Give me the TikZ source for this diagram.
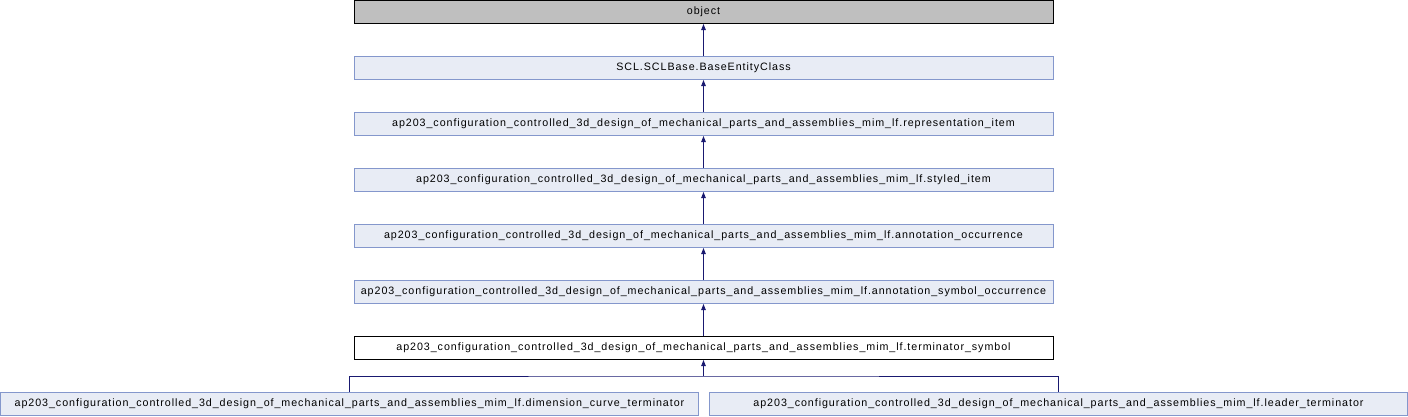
\documentclass[tikz,border=0pt]{standalone}
\usepackage{fontspec}
\setmainfont{Liberation Sans}
\newfontfamily\lblfont[LetterSpace=8.8]{Liberation Sans}
\usetikzlibrary{arrows.meta}
\definecolor{boxfill}{HTML}{E8ECF5}
\definecolor{boxline}{HTML}{8497CC}
\definecolor{edgecol}{HTML}{191970}
\definecolor{objfill}{HTML}{BFBFBF}
\tikzset{
  x=1pt, y=-1pt,
  cls/.style={draw=boxline, fill=boxfill, line width=1pt, minimum height=23pt, inner sep=0pt,
    font=\lblfont\fontsize{10.7pt}{12pt}\selectfont},
  wide/.style={cls, minimum width=699pt},
  half/.style={cls, minimum width=698pt},
  objbox/.style={wide, draw=black, fill=objfill},
  curbox/.style={wide, draw=black, fill=white},
  inh/.style={draw=edgecol, line width=1pt, -{Triangle[length=6pt,width=4.5pt]}},
  ln/.style={draw=edgecol, line width=1pt}
}
\begin{document}
\begin{tikzpicture}
\useasboundingbox (0,0) rectangle (1408,416);
\node[objbox] (n0) at (703.5,12) {object};
\node[wide] (n1) at (703.5,68) {SCL.SCLBase.BaseEntityClass};
\node[wide] (n2) at (703.5,124) {ap203\_configuration\_controlled\_3d\_design\_of\_mechanical\_parts\_and\_assemblies\_mim\_lf.representation\_item};
\node[wide] (n3) at (703.5,180) {ap203\_configuration\_controlled\_3d\_design\_of\_mechanical\_parts\_and\_assemblies\_mim\_lf.styled\_item};
\node[wide] (n4) at (703.5,236) {ap203\_configuration\_controlled\_3d\_design\_of\_mechanical\_parts\_and\_assemblies\_mim\_lf.annotation\_occurrence};
\node[wide] (n5) at (703.5,292) {ap203\_configuration\_controlled\_3d\_design\_of\_mechanical\_parts\_and\_assemblies\_mim\_lf.annotation\_symbol\_occurrence};
\node[curbox] (n6) at (703.5,348) {ap203\_configuration\_controlled\_3d\_design\_of\_mechanical\_parts\_and\_assemblies\_mim\_lf.terminator\_symbol};
\node[half] (n7) at (349.5,404) {ap203\_configuration\_controlled\_3d\_design\_of\_mechanical\_parts\_and\_assemblies\_mim\_lf.dimension\_curve\_terminator};
\node[half] (n8) at (1058.5,404) {ap203\_configuration\_controlled\_3d\_design\_of\_mechanical\_parts\_and\_assemblies\_mim\_lf.leader\_terminator};
\draw[inh] (n1.north) -- (n0.south);
\draw[inh] (n2.north) -- (n1.south);
\draw[inh] (n3.north) -- (n2.south);
\draw[inh] (n4.north) -- (n3.south);
\draw[inh] (n5.north) -- (n4.south);
\draw[inh] (n6.north) -- (n5.south);
\coordinate (j) at (703.5,376);
\draw[ln] (n7.north) |- (j) -| (n8.north);
\draw[inh] (j) -- (n6.south);
\end{tikzpicture}
\end{document}
